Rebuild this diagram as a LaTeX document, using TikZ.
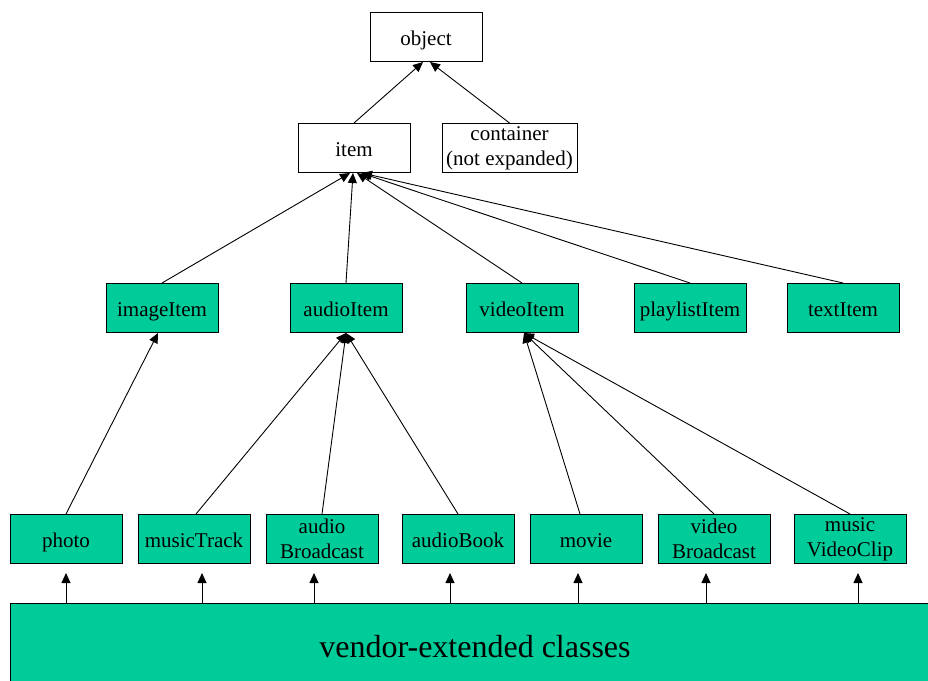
\documentclass[tikz,border=0pt]{standalone}
\usepackage{fontspec}
\setmainfont{Liberation Serif}
\usetikzlibrary{arrows.meta,positioning,calc}
\definecolor{upnpgreen}{HTML}{00CC99}

\begin{document}
\begin{tikzpicture}[x=1pt, y=-1pt,
		box/.style = {draw, line width=1pt, minimum width=112pt, minimum height=49pt, inner sep=0pt, font=\fontsize{21}{25}\selectfont, text height=17pt, text depth=1pt},
		twoline/.style = {align=center, text height=, text depth=},
		classbox/.style = {box, fill=upnpgreen},
		inherit/.style = {line width=0.9pt, -{Triangle[length=10pt, width=9pt]}},
		vendorarrow/.style = {inherit, shorten >=9pt}]
		\useasboundingbox (0,0) rectangle (928,680);
		% top levels
		\node [box](object) at (426,37) {object};
		\node [box](item) at (354,148) {item};
		\node [box, twoline, minimum width=135pt](container) at (509.5,148) {container\\(not expanded)};
		% item classes
		\node [classbox](imageItem) at (162,308) {imageItem};
		\node [classbox](audioItem) at (346,308) {audioItem};
		\node [classbox](videoItem) at (522,308) {videoItem};
		\node [classbox](playlistItem) at (690,308) {playlistItem};
		\node [classbox](textItem) at (843,308) {textItem};
		% leaf classes
		\node [classbox](photo) at (66,539) {photo};
		\node [classbox](musicTrack) at (194,539) {musicTrack};
		\node [classbox, twoline](audioBroadcast) at (322,539) {audio\\Broadcast};
		\node [classbox](audioBook) at (458,539) {audioBook};
		\node [classbox](movie) at (586,539) {movie};
		\node [classbox, twoline](videoBroadcast) at (714,539) {video\\Broadcast};
		\node [classbox, twoline](musicVideoClip) at (850,539) {music\\VideoClip};
		\node [draw, line width=1pt, fill=upnpgreen, minimum width=930pt, minimum height=87pt, font=\fontsize{32}{38}\selectfont](vendor) at (475,646.5) {vendor-extended classes};
		% inheritance
		\draw [inherit] (item.north) -- ([xshift=-3pt]object.south);
		\draw [inherit] (container.north) -- ([xshift=4pt]object.south);
		\draw [inherit] (imageItem.north) -- ([xshift=-4pt]item.south);
		\draw [inherit] (audioItem.north) -- ([xshift=-1pt]item.south);
		\draw [inherit] (videoItem.north) -- ([xshift=3pt]item.south);
		\draw [inherit] (playlistItem.north) -- ([xshift=7pt]item.south);
		\draw [inherit] (textItem.north) -- ([xshift=8pt]item.south);
		\draw [inherit] (photo.north) -- ([xshift=-4pt]imageItem.south);
		\draw [inherit] ([xshift=2pt]musicTrack.north) -- (audioItem.south);
		\draw [inherit] (audioBroadcast.north) -- (audioItem.south);
		\draw [inherit] (audioBook.north) -- (audioItem.south);
		\draw [inherit] ([xshift=-6pt]movie.north) -- ([xshift=2pt]videoItem.south);
		\draw [inherit] (videoBroadcast.north) -- ([xshift=2pt]videoItem.south);
		\draw [inherit] (musicVideoClip.north) -- ([xshift=2pt]videoItem.south);
		% vendor extensions
		\draw [vendorarrow] (vendor.north -| photo.south) -- (photo.south);
		\draw [vendorarrow] ([xshift=8pt]vendor.north -| musicTrack.south) -- ([xshift=8pt]musicTrack.south);
		\draw [vendorarrow] ([xshift=-8pt]vendor.north -| audioBroadcast.south) -- ([xshift=-8pt]audioBroadcast.south);
		\draw [vendorarrow] ([xshift=-8pt]vendor.north -| audioBook.south) -- ([xshift=-8pt]audioBook.south);
		\draw [vendorarrow] ([xshift=-8pt]vendor.north -| movie.south) -- ([xshift=-8pt]movie.south);
		\draw [vendorarrow] ([xshift=-8pt]vendor.north -| videoBroadcast.south) -- ([xshift=-8pt]videoBroadcast.south);
		\draw [vendorarrow] ([xshift=8pt]vendor.north -| musicVideoClip.south) -- ([xshift=8pt]musicVideoClip.south);
		\end{tikzpicture}
\end{document}
